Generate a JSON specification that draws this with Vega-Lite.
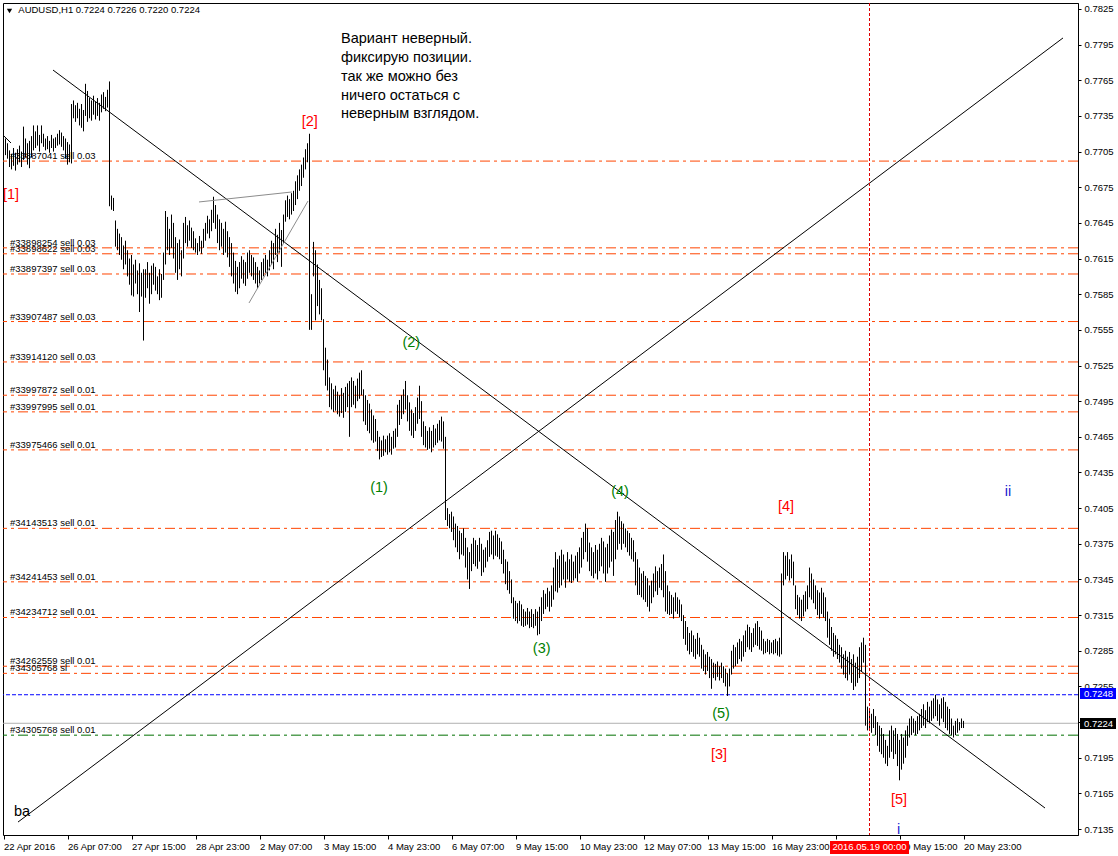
{
"$schema":"https://vega.github.io/schema/vega-lite/v6.json",
"width":1075,"height":832,
"autosize":{"type":"none"},
"padding":{"left":3,"top":3,"right":40,"bottom":21},
"background":"#ffffff",
"config":{"view":{"stroke":"#000000","strokeWidth":1},
"axis":{"labelFont":"Liberation Sans","labelFontSize":9.5,"labelColor":"#000000","tickColor":"#000000","domainColor":"#000000","grid":false,"labelOverlap":false,"labelFlush":false},
"text":{"font":"Liberation Sans"}},
"resolve":{"scale":{"color":"independent"}},
"datasets":{
"bars":[
{"t":0,"h":0.7718,"l":0.7704},{"t":1,"h":0.7716,"l":0.7702},{"t":2,"h":0.7712,"l":0.7699},{"t":3,"h":0.7706,"l":0.7692},{"t":4,"h":0.7703,"l":0.7690},
{"t":5,"h":0.7708,"l":0.7693},{"t":6,"h":0.7704,"l":0.7689},{"t":7,"h":0.7707,"l":0.7694},{"t":8,"h":0.7710,"l":0.7696},{"t":9,"h":0.7705,"l":0.7692},
{"t":10,"h":0.7726,"l":0.7698},{"t":11,"h":0.7716,"l":0.7700},{"t":12,"h":0.7712,"l":0.7694},{"t":13,"h":0.7714,"l":0.7691},{"t":14,"h":0.7718,"l":0.7700},
{"t":15,"h":0.7727,"l":0.7706},{"t":16,"h":0.7722,"l":0.7708},{"t":17,"h":0.7727,"l":0.7710},{"t":18,"h":0.7719,"l":0.7705},{"t":19,"h":0.7727,"l":0.7712},
{"t":20,"h":0.7720,"l":0.7709},{"t":21,"h":0.7716,"l":0.7706},{"t":22,"h":0.7718,"l":0.7707},{"t":23,"h":0.7714,"l":0.7704},{"t":24,"h":0.7719,"l":0.7708},
{"t":25,"h":0.7716,"l":0.7705},{"t":26,"h":0.7717,"l":0.7708},{"t":27,"h":0.7720,"l":0.7710},{"t":28,"h":0.7723,"l":0.7711},{"t":29,"h":0.7721,"l":0.7709},
{"t":30,"h":0.7718,"l":0.7706},{"t":31,"h":0.7716,"l":0.7699},{"t":32,"h":0.7713,"l":0.7694},{"t":33,"h":0.7711,"l":0.7696},{"t":34,"h":0.7745,"l":0.7695},
{"t":35,"h":0.7748,"l":0.7733},{"t":36,"h":0.7744,"l":0.7730},{"t":37,"h":0.7746,"l":0.7733},{"t":38,"h":0.7741,"l":0.7727},{"t":39,"h":0.7745,"l":0.7725},
{"t":40,"h":0.7740,"l":0.7722},{"t":41,"h":0.7762,"l":0.7735},{"t":42,"h":0.7756,"l":0.7730},{"t":43,"h":0.7750,"l":0.7733},{"t":44,"h":0.7748,"l":0.7731},
{"t":45,"h":0.7752,"l":0.7736},{"t":46,"h":0.7747,"l":0.7732},{"t":47,"h":0.7750,"l":0.7735},{"t":48,"h":0.7746,"l":0.7731},{"t":49,"h":0.7753,"l":0.7738},
{"t":50,"h":0.7755,"l":0.7741},{"t":51,"h":0.7751,"l":0.7739},{"t":52,"h":0.7757,"l":0.7742},{"t":53,"h":0.7764,"l":0.7659},{"t":54,"h":0.7668,"l":0.7656},
{"t":55,"h":0.7666,"l":0.7655},{"t":56,"h":0.7647,"l":0.7625},{"t":57,"h":0.7640,"l":0.7622},{"t":58,"h":0.7636,"l":0.7618},{"t":59,"h":0.7633,"l":0.7614},
{"t":60,"h":0.7626,"l":0.7606},{"t":61,"h":0.7630,"l":0.7610},{"t":62,"h":0.7622,"l":0.7600},{"t":63,"h":0.7615,"l":0.7593},{"t":64,"h":0.7618,"l":0.7584},
{"t":65,"h":0.7610,"l":0.7583},{"t":66,"h":0.7614,"l":0.7594},{"t":67,"h":0.7605,"l":0.7585},{"t":68,"h":0.7611,"l":0.7570},{"t":69,"h":0.7603,"l":0.7583},
{"t":70,"h":0.7606,"l":0.7546},{"t":71,"h":0.7606,"l":0.7582},{"t":72,"h":0.7612,"l":0.7590},{"t":73,"h":0.7603,"l":0.7577},{"t":74,"h":0.7609,"l":0.7585},
{"t":75,"h":0.7611,"l":0.7593},{"t":76,"h":0.7608,"l":0.7588},{"t":77,"h":0.7600,"l":0.7585},{"t":78,"h":0.7606,"l":0.7580},{"t":79,"h":0.7602,"l":0.7582},
{"t":80,"h":0.7620,"l":0.7597},{"t":81,"h":0.7655,"l":0.7610},{"t":82,"h":0.7650,"l":0.7622},{"t":83,"h":0.7640,"l":0.7618},{"t":84,"h":0.7652,"l":0.7624},
{"t":85,"h":0.7645,"l":0.7615},{"t":86,"h":0.7633,"l":0.7603},{"t":87,"h":0.7628,"l":0.7597},{"t":88,"h":0.7631,"l":0.7606},{"t":89,"h":0.7622,"l":0.7600},
{"t":90,"h":0.7645,"l":0.7615},{"t":91,"h":0.7650,"l":0.7628},{"t":92,"h":0.7643,"l":0.7625},{"t":93,"h":0.7647,"l":0.7630},{"t":94,"h":0.7641,"l":0.7624},
{"t":95,"h":0.7638,"l":0.7622},{"t":96,"h":0.7632,"l":0.7620},{"t":97,"h":0.7628,"l":0.7618},{"t":98,"h":0.7634,"l":0.7621},{"t":99,"h":0.7630,"l":0.7619},
{"t":100,"h":0.7640,"l":0.7624},{"t":101,"h":0.7645,"l":0.7630},{"t":102,"h":0.7651,"l":0.7636},{"t":103,"h":0.7648,"l":0.7632},{"t":104,"h":0.7656,"l":0.7638},
{"t":105,"h":0.7667,"l":0.7645},{"t":106,"h":0.7660,"l":0.7640},{"t":107,"h":0.7652,"l":0.7628},{"t":108,"h":0.7648,"l":0.7622},{"t":109,"h":0.7645,"l":0.7625},
{"t":110,"h":0.7640,"l":0.7618},{"t":111,"h":0.7646,"l":0.7620},{"t":112,"h":0.7638,"l":0.7616},{"t":113,"h":0.7633,"l":0.7608},{"t":114,"h":0.7628,"l":0.7600},
{"t":115,"h":0.7620,"l":0.7594},{"t":116,"h":0.7613,"l":0.7587},{"t":117,"h":0.7608,"l":0.7585},{"t":118,"h":0.7612,"l":0.7590},{"t":119,"h":0.7617,"l":0.7598},
{"t":120,"h":0.7614,"l":0.7594},{"t":121,"h":0.7612,"l":0.7592},{"t":122,"h":0.7620,"l":0.7598},{"t":123,"h":0.7622,"l":0.7603},{"t":124,"h":0.7618,"l":0.7600},
{"t":125,"h":0.7616,"l":0.7597},{"t":126,"h":0.7612,"l":0.7594},{"t":127,"h":0.7608,"l":0.7590},{"t":128,"h":0.7605,"l":0.7594},{"t":129,"h":0.7612,"l":0.7597},
{"t":130,"h":0.7615,"l":0.7600},{"t":131,"h":0.7618,"l":0.7603},{"t":132,"h":0.7614,"l":0.7600},{"t":133,"h":0.7622,"l":0.7605},{"t":134,"h":0.7630,"l":0.7610},
{"t":135,"h":0.7628,"l":0.7606},{"t":136,"h":0.7640,"l":0.7618},{"t":137,"h":0.7635,"l":0.7612},{"t":138,"h":0.7645,"l":0.7620},{"t":139,"h":0.7639,"l":0.7608},
{"t":140,"h":0.7652,"l":0.7628},{"t":141,"h":0.7664,"l":0.7646},{"t":142,"h":0.7668,"l":0.7650},{"t":143,"h":0.7665,"l":0.7648},{"t":144,"h":0.7670,"l":0.7652},
{"t":145,"h":0.7672,"l":0.7655},{"t":146,"h":0.7680,"l":0.7660},{"t":147,"h":0.7685,"l":0.7665},{"t":148,"h":0.7690,"l":0.7672},{"t":149,"h":0.7694,"l":0.7676},
{"t":150,"h":0.7700,"l":0.7683},{"t":151,"h":0.7707,"l":0.7690},{"t":152,"h":0.7712,"l":0.7696},{"t":153,"h":0.7720,"l":0.7555},{"t":154,"h":0.7585,"l":0.7555},
{"t":155,"h":0.7629,"l":0.7600},{"t":156,"h":0.7622,"l":0.7563},{"t":157,"h":0.7610,"l":0.7575},{"t":158,"h":0.7597,"l":0.7568},{"t":159,"h":0.7590,"l":0.7563},
{"t":160,"h":0.7564,"l":0.7521},{"t":161,"h":0.7540,"l":0.7508},{"t":162,"h":0.7530,"l":0.7504},{"t":163,"h":0.7515,"l":0.7490},{"t":164,"h":0.7510,"l":0.7488},
{"t":165,"h":0.7505,"l":0.7486},{"t":166,"h":0.7508,"l":0.7487},{"t":167,"h":0.7503,"l":0.7484},{"t":168,"h":0.7500,"l":0.7482},{"t":169,"h":0.7506,"l":0.7485},
{"t":170,"h":0.7502,"l":0.7481},{"t":171,"h":0.7507,"l":0.7486},{"t":172,"h":0.7510,"l":0.7490},{"t":173,"h":0.7512,"l":0.7465},{"t":174,"h":0.7515,"l":0.7490},
{"t":175,"h":0.7512,"l":0.7492},{"t":176,"h":0.7508,"l":0.7489},{"t":177,"h":0.7514,"l":0.7495},{"t":178,"h":0.7519,"l":0.7497},{"t":179,"h":0.7521,"l":0.7500},
{"t":180,"h":0.7505,"l":0.7478},{"t":181,"h":0.7500,"l":0.7475},{"t":182,"h":0.7496,"l":0.7470},{"t":183,"h":0.7493,"l":0.7468},{"t":184,"h":0.7488,"l":0.7462},
{"t":185,"h":0.7483,"l":0.7460},{"t":186,"h":0.7480,"l":0.7461},{"t":187,"h":0.7470,"l":0.7453},{"t":188,"h":0.7465,"l":0.7446},{"t":189,"h":0.7462,"l":0.7448},
{"t":190,"h":0.7466,"l":0.7449},{"t":191,"h":0.7463,"l":0.7452},{"t":192,"h":0.7466,"l":0.7450},{"t":193,"h":0.7468,"l":0.7452},{"t":194,"h":0.7465,"l":0.7450},
{"t":195,"h":0.7470,"l":0.7455},{"t":196,"h":0.7472,"l":0.7456},{"t":197,"h":0.7492,"l":0.7465},{"t":198,"h":0.7496,"l":0.7475},{"t":199,"h":0.7500,"l":0.7480},
{"t":200,"h":0.7505,"l":0.7484},{"t":201,"h":0.7512,"l":0.7488},{"t":202,"h":0.7500,"l":0.7478},{"t":203,"h":0.7494,"l":0.7470},{"t":204,"h":0.7488,"l":0.7466},
{"t":205,"h":0.7485,"l":0.7464},{"t":206,"h":0.7490,"l":0.7470},{"t":207,"h":0.7498,"l":0.7476},{"t":208,"h":0.7508,"l":0.7480},{"t":209,"h":0.7495,"l":0.7465},
{"t":210,"h":0.7478,"l":0.7458},{"t":211,"h":0.7474,"l":0.7456},{"t":212,"h":0.7470,"l":0.7454},{"t":213,"h":0.7473,"l":0.7455},{"t":214,"h":0.7470,"l":0.7452},
{"t":215,"h":0.7475,"l":0.7456},{"t":216,"h":0.7472,"l":0.7458},{"t":217,"h":0.7476,"l":0.7460},{"t":218,"h":0.7479,"l":0.7462},{"t":219,"h":0.7482,"l":0.7461},
{"t":220,"h":0.7478,"l":0.7455},{"t":221,"h":0.7465,"l":0.7395},{"t":222,"h":0.7405,"l":0.7390},{"t":223,"h":0.7400,"l":0.7388},{"t":224,"h":0.7402,"l":0.7385},
{"t":225,"h":0.7398,"l":0.7378},{"t":226,"h":0.7392,"l":0.7372},{"t":227,"h":0.7390,"l":0.7368},{"t":228,"h":0.7386,"l":0.7362},{"t":229,"h":0.7384,"l":0.7366},
{"t":230,"h":0.7388,"l":0.7365},{"t":231,"h":0.7380,"l":0.7355},{"t":232,"h":0.7372,"l":0.7345},{"t":233,"h":0.7368,"l":0.7337},{"t":234,"h":0.7375,"l":0.7352},
{"t":235,"h":0.7380,"l":0.7358},{"t":236,"h":0.7378,"l":0.7356},{"t":237,"h":0.7374,"l":0.7354},{"t":238,"h":0.7380,"l":0.7360},{"t":239,"h":0.7375,"l":0.7348},
{"t":240,"h":0.7370,"l":0.7351},{"t":241,"h":0.7372,"l":0.7355},{"t":242,"h":0.7378,"l":0.7360},{"t":243,"h":0.7385,"l":0.7364},{"t":244,"h":0.7386,"l":0.7366},
{"t":245,"h":0.7382,"l":0.7362},{"t":246,"h":0.7386,"l":0.7365},{"t":247,"h":0.7383,"l":0.7364},{"t":248,"h":0.7380,"l":0.7362},{"t":249,"h":0.7377,"l":0.7358},
{"t":250,"h":0.7370,"l":0.7350},{"t":251,"h":0.7362,"l":0.7341},{"t":252,"h":0.7360,"l":0.7336},{"t":253,"h":0.7352,"l":0.7333},{"t":254,"h":0.7345,"l":0.7325},
{"t":255,"h":0.7330,"l":0.7312},{"t":256,"h":0.7327,"l":0.7310},{"t":257,"h":0.7325,"l":0.7308},{"t":258,"h":0.7327,"l":0.7310},{"t":259,"h":0.7324,"l":0.7306},
{"t":260,"h":0.7320,"l":0.7305},{"t":261,"h":0.7318,"l":0.7306},{"t":262,"h":0.7321,"l":0.7307},{"t":263,"h":0.7318,"l":0.7304},{"t":264,"h":0.7320,"l":0.7305},
{"t":265,"h":0.7316,"l":0.7304},{"t":266,"h":0.7320,"l":0.7306},{"t":267,"h":0.7318,"l":0.7298},{"t":268,"h":0.7322,"l":0.7299},{"t":269,"h":0.7330,"l":0.7310},
{"t":270,"h":0.7336,"l":0.7316},{"t":271,"h":0.7333,"l":0.7320},{"t":272,"h":0.7338,"l":0.7322},{"t":273,"h":0.7335,"l":0.7318},{"t":274,"h":0.7340,"l":0.7322},
{"t":275,"h":0.7355,"l":0.7328},{"t":276,"h":0.7368,"l":0.7335},{"t":277,"h":0.7362,"l":0.7334},{"t":278,"h":0.7365,"l":0.7338},{"t":279,"h":0.7370,"l":0.7340},
{"t":280,"h":0.7366,"l":0.7345},{"t":281,"h":0.7360,"l":0.7338},{"t":282,"h":0.7368,"l":0.7345},{"t":283,"h":0.7362,"l":0.7343},{"t":284,"h":0.7366,"l":0.7342},
{"t":285,"h":0.7360,"l":0.7344},{"t":286,"h":0.7365,"l":0.7346},{"t":287,"h":0.7368,"l":0.7343},{"t":288,"h":0.7372,"l":0.7350},{"t":289,"h":0.7380,"l":0.7355},
{"t":290,"h":0.7385,"l":0.7362},{"t":291,"h":0.7392,"l":0.7368},{"t":292,"h":0.7388,"l":0.7360},{"t":293,"h":0.7376,"l":0.7352},{"t":294,"h":0.7372,"l":0.7348},
{"t":295,"h":0.7368,"l":0.7346},{"t":296,"h":0.7374,"l":0.7350},{"t":297,"h":0.7370,"l":0.7345},{"t":298,"h":0.7375,"l":0.7352},{"t":299,"h":0.7380,"l":0.7356},
{"t":300,"h":0.7377,"l":0.7350},{"t":301,"h":0.7372,"l":0.7343},{"t":302,"h":0.7375,"l":0.7350},{"t":303,"h":0.7382,"l":0.7355},{"t":304,"h":0.7387,"l":0.7360},
{"t":305,"h":0.7385,"l":0.7348},{"t":306,"h":0.7395,"l":0.7362},{"t":307,"h":0.7402,"l":0.7370},{"t":308,"h":0.7398,"l":0.7375},{"t":309,"h":0.7394,"l":0.7370},
{"t":310,"h":0.7392,"l":0.7375},{"t":311,"h":0.7388,"l":0.7372},{"t":312,"h":0.7386,"l":0.7368},{"t":313,"h":0.7384,"l":0.7365},{"t":314,"h":0.7380,"l":0.7362},
{"t":315,"h":0.7378,"l":0.7360},{"t":316,"h":0.7368,"l":0.7340},{"t":317,"h":0.7362,"l":0.7332},{"t":318,"h":0.7355,"l":0.7332},{"t":319,"h":0.7350,"l":0.7330},
{"t":320,"h":0.7352,"l":0.7328},{"t":321,"h":0.7348,"l":0.7326},{"t":322,"h":0.7346,"l":0.7322},{"t":323,"h":0.7340,"l":0.7318},{"t":324,"h":0.7344,"l":0.7325},
{"t":325,"h":0.7350,"l":0.7330},{"t":326,"h":0.7356,"l":0.7335},{"t":327,"h":0.7352,"l":0.7332},{"t":328,"h":0.7355,"l":0.7338},{"t":329,"h":0.7358,"l":0.7336},
{"t":330,"h":0.7366,"l":0.7330},{"t":331,"h":0.7352,"l":0.7318},{"t":332,"h":0.7340,"l":0.7316},{"t":333,"h":0.7335,"l":0.7315},{"t":334,"h":0.7332,"l":0.7316},
{"t":335,"h":0.7330,"l":0.7312},{"t":336,"h":0.7334,"l":0.7318},{"t":337,"h":0.7330,"l":0.7316},{"t":338,"h":0.7328,"l":0.7313},{"t":339,"h":0.7324,"l":0.7310},
{"t":340,"h":0.7315,"l":0.7295},{"t":341,"h":0.7310,"l":0.7290},{"t":342,"h":0.7305,"l":0.7285},{"t":343,"h":0.7300,"l":0.7282},{"t":344,"h":0.7302,"l":0.7284},
{"t":345,"h":0.7298,"l":0.7280},{"t":346,"h":0.7295,"l":0.7278},{"t":347,"h":0.7300,"l":0.7282},{"t":348,"h":0.7296,"l":0.7280},{"t":349,"h":0.7290,"l":0.7270},
{"t":350,"h":0.7286,"l":0.7268},{"t":351,"h":0.7282,"l":0.7265},{"t":352,"h":0.7284,"l":0.7268},{"t":353,"h":0.7280,"l":0.7262},{"t":354,"h":0.7278,"l":0.7253},
{"t":355,"h":0.7275,"l":0.7262},{"t":356,"h":0.7274,"l":0.7260},{"t":357,"h":0.7276,"l":0.7263},{"t":358,"h":0.7272,"l":0.7260},{"t":359,"h":0.7275,"l":0.7262},
{"t":360,"h":0.7272,"l":0.7258},{"t":361,"h":0.7270,"l":0.7255},{"t":362,"h":0.7266,"l":0.7247},{"t":363,"h":0.7270,"l":0.7255},{"t":364,"h":0.7285,"l":0.7265},
{"t":365,"h":0.7290,"l":0.7270},{"t":366,"h":0.7288,"l":0.7272},{"t":367,"h":0.7292,"l":0.7274},{"t":368,"h":0.7295,"l":0.7278},{"t":369,"h":0.7293,"l":0.7276},
{"t":370,"h":0.7298,"l":0.7280},{"t":371,"h":0.7302,"l":0.7284},{"t":372,"h":0.7307,"l":0.7288},{"t":373,"h":0.7305,"l":0.7286},{"t":374,"h":0.7300,"l":0.7284},
{"t":375,"h":0.7304,"l":0.7288},{"t":376,"h":0.7308,"l":0.7290},{"t":377,"h":0.7310,"l":0.7289},{"t":378,"h":0.7305,"l":0.7286},{"t":379,"h":0.7302,"l":0.7285},
{"t":380,"h":0.7295,"l":0.7282},{"t":381,"h":0.7293,"l":0.7283},{"t":382,"h":0.7295,"l":0.7284},{"t":383,"h":0.7294,"l":0.7282},{"t":384,"h":0.7292,"l":0.7283},
{"t":385,"h":0.7294,"l":0.7282},{"t":386,"h":0.7295,"l":0.7283},{"t":387,"h":0.7293,"l":0.7281},{"t":388,"h":0.7296,"l":0.7280},{"t":389,"h":0.7350,"l":0.7282},
{"t":390,"h":0.7368,"l":0.7340},{"t":391,"h":0.7365,"l":0.7345},{"t":392,"h":0.7368,"l":0.7348},{"t":393,"h":0.7362,"l":0.7344},{"t":394,"h":0.7366,"l":0.7346},
{"t":395,"h":0.7360,"l":0.7340},{"t":396,"h":0.7340,"l":0.7320},{"t":397,"h":0.7332,"l":0.7315},{"t":398,"h":0.7330,"l":0.7312},{"t":399,"h":0.7328,"l":0.7310},
{"t":400,"h":0.7332,"l":0.7314},{"t":401,"h":0.7335,"l":0.7318},{"t":402,"h":0.7340,"l":0.7320},{"t":403,"h":0.7355,"l":0.7330},{"t":404,"h":0.7350,"l":0.7328},
{"t":405,"h":0.7345,"l":0.7325},{"t":406,"h":0.7340,"l":0.7320},{"t":407,"h":0.7336,"l":0.7315},{"t":408,"h":0.7334,"l":0.7312},{"t":409,"h":0.7338,"l":0.7316},
{"t":410,"h":0.7334,"l":0.7313},{"t":411,"h":0.7330,"l":0.7310},{"t":412,"h":0.7318,"l":0.7296},{"t":413,"h":0.7312,"l":0.7290},{"t":414,"h":0.7305,"l":0.7285},
{"t":415,"h":0.7300,"l":0.7280},{"t":416,"h":0.7298,"l":0.7282},{"t":417,"h":0.7295,"l":0.7278},{"t":418,"h":0.7290,"l":0.7275},{"t":419,"h":0.7288,"l":0.7270},
{"t":420,"h":0.7282,"l":0.7265},{"t":421,"h":0.7285,"l":0.7262},{"t":422,"h":0.7280,"l":0.7260},{"t":423,"h":0.7284,"l":0.7265},{"t":424,"h":0.7278,"l":0.7258},
{"t":425,"h":0.7282,"l":0.7252},{"t":426,"h":0.7275,"l":0.7255},{"t":427,"h":0.7280,"l":0.7258},{"t":428,"h":0.7288,"l":0.7262},{"t":429,"h":0.7292,"l":0.7268},
{"t":430,"h":0.7296,"l":0.7275},{"t":431,"h":0.7290,"l":0.7222},{"t":432,"h":0.7238,"l":0.7218},{"t":433,"h":0.7235,"l":0.7220},{"t":434,"h":0.7232,"l":0.7216},
{"t":435,"h":0.7236,"l":0.7220},{"t":436,"h":0.7230,"l":0.7214},{"t":437,"h":0.7225,"l":0.7205},{"t":438,"h":0.7222,"l":0.7200},{"t":439,"h":0.7220,"l":0.7198},
{"t":440,"h":0.7215,"l":0.7195},{"t":441,"h":0.7210,"l":0.7190},{"t":442,"h":0.7205,"l":0.7188},{"t":443,"h":0.7218,"l":0.7195},{"t":444,"h":0.7222,"l":0.7200},
{"t":445,"h":0.7218,"l":0.7194},{"t":446,"h":0.7220,"l":0.7198},{"t":447,"h":0.7215,"l":0.7188},{"t":448,"h":0.7210,"l":0.7176},{"t":449,"h":0.7215,"l":0.7185},
{"t":450,"h":0.7212,"l":0.7190},{"t":451,"h":0.7218,"l":0.7195},{"t":452,"h":0.7222,"l":0.7205},{"t":453,"h":0.7228,"l":0.7212},{"t":454,"h":0.7230,"l":0.7214},
{"t":455,"h":0.7228,"l":0.7216},{"t":456,"h":0.7226,"l":0.7214},{"t":457,"h":0.7230,"l":0.7215},{"t":458,"h":0.7232,"l":0.7218},{"t":459,"h":0.7236,"l":0.7220},
{"t":460,"h":0.7240,"l":0.7222},{"t":461,"h":0.7235,"l":0.7220},{"t":462,"h":0.7242,"l":0.7225},{"t":463,"h":0.7238,"l":0.7224},{"t":464,"h":0.7243,"l":0.7226},
{"t":465,"h":0.7245,"l":0.7228},{"t":466,"h":0.7248,"l":0.7230},{"t":467,"h":0.7244,"l":0.7226},{"t":468,"h":0.7240,"l":0.7222},{"t":469,"h":0.7245,"l":0.7228},
{"t":470,"h":0.7246,"l":0.7225},{"t":471,"h":0.7242,"l":0.7220},{"t":472,"h":0.7238,"l":0.7218},{"t":473,"h":0.7236,"l":0.7215},{"t":474,"h":0.7228,"l":0.7214},
{"t":475,"h":0.7222,"l":0.7212},{"t":476,"h":0.7226,"l":0.7214},{"t":477,"h":0.7228,"l":0.7216},{"t":478,"h":0.7225,"l":0.7218},{"t":479,"h":0.7228,"l":0.7220},
{"t":480,"h":0.7226,"l":0.7220}
],
"hlines":[
{"p":0.7697,"k":"sell","lab":"#33887041 sell 0.03"},
{"p":0.7624,"k":"sell","lab":"#33898254 sell 0.03"},
{"p":0.7619,"k":"sell","lab":"#33898622 sell 0.03"},
{"p":0.7602,"k":"sell","lab":"#33897397 sell 0.03"},
{"p":0.7562,"k":"sell","lab":"#33907487 sell 0.03"},
{"p":0.7528,"k":"sell","lab":"#33914120 sell 0.03"},
{"p":0.7500,"k":"sell","lab":"#33997872 sell 0.01"},
{"p":0.7486,"k":"sell","lab":"#33997995 sell 0.01"},
{"p":0.7454,"k":"sell","lab":"#33975466 sell 0.01"},
{"p":0.7388,"k":"sell","lab":"#34143513 sell 0.01"},
{"p":0.7343,"k":"sell","lab":"#34241453 sell 0.01"},
{"p":0.7313,"k":"sell","lab":"#34234712 sell 0.01"},
{"p":0.7272,"k":"sell","lab":"#34262559 sell 0.01"},
{"p":0.7266,"k":"sl","lab":"#34305768 sl"},
{"p":0.7248,"k":"alert","lab":""},
{"p":0.7224,"k":"bid","lab":""},
{"p":0.7214,"k":"order","lab":"#34305768 sell 0.01"}
],
"trend":[
{"id":"a","k":"black","t":24.75,"p":0.77736},{"id":"a","k":"black","t":520.75,"p":0.71527},
{"id":"b","k":"black","t":7.25,"p":0.71409},{"id":"b","k":"black","t":529.75,"p":0.78006},
{"id":"c","k":"gray","t":97.75,"p":0.76626},{"id":"c","k":"gray","t":144.25,"p":0.76710},
{"id":"d","k":"gray","t":122.75,"p":0.75776},{"id":"d","k":"gray","t":152.25,"p":0.76634},
{"id":"e","k":"black","t":-0.25,"p":0.77189},{"id":"e","k":"black","t":3.75,"p":0.77122}
],
"ann":[
{"t":3.75,"p":0.76685,"txt":"[1]","k":"red"},
{"t":153.1,"p":0.77299,"txt":"[2]","k":"red"},
{"t":357.75,"p":0.71973,"txt":"[3]","k":"red"},
{"t":391.25,"p":0.74060,"txt":"[4]","k":"red"},
{"t":447.75,"p":0.71594,"txt":"[5]","k":"red"},
{"t":187.75,"p":0.74217,"txt":"(1)","k":"green"},
{"t":203.9,"p":0.75437,"txt":"(2)","k":"green"},
{"t":269.1,"p":0.72865,"txt":"(3)","k":"green"},
{"t":308.25,"p":0.74186,"txt":"(4)","k":"green"},
{"t":358.75,"p":0.72318,"txt":"(5)","k":"green"},
{"t":502.25,"p":0.74186,"txt":"ii","k":"blue"},
{"t":447.6,"p":0.71338,"txt":"i","k":"blue"},
{"t":9.25,"p":0.71493,"txt":"ba","k":"black"}
],
"note":[
{"t":168.75,"p":0.77961,"txt":"Вариант неверный."},
{"t":168.75,"p":0.77804,"txt":"фиксирую позиции."},
{"t":168.75,"p":0.77645,"txt":"так же можно без"},
{"t":168.75,"p":0.77488,"txt":"ничего остаться с"},
{"t":168.75,"p":0.77330,"txt":"неверным взглядом."}
],
"boxes":[
{"t":538.25,"t2":556.25,"p":0.72444,"p2":0.72537,"k":"alert"},
{"t":538.25,"t2":556.25,"p":0.72192,"p2":0.72284,"k":"bid"},
{"t":413.25,"t2":452.75,"p":0.71140,"p2":0.71249,"k":"time"}
],
"boxtext":[
{"t":540.25,"p":0.72490,"txt":"0.7248"},
{"t":540.25,"p":0.72238,"txt":"0.7224"}
]
},
"layer":[
{"data":{"name":"hlines"},"transform":[{"filter":"datum.k=='sell'||datum.k=='sl'"}],
"mark":{"type":"rule","color":"#ff4500","strokeWidth":1,"strokeDash":[10,4,3,4]},
"encoding":{"y":{"field":"p","type":"quantitative","title":null,"scale":{"domain":[0.713,0.783],"nice":false,"zero":false},
"axis":{"orient":"right","values":[0.7135,0.7165,0.7195,0.7225,0.7255,0.7285,0.7315,0.7345,0.7375,0.7405,0.7435,0.7465,0.7495,0.7525,0.7555,0.7585,0.7615,0.7645,0.7675,0.7705,0.7735,0.7765,0.7795,0.7825],"tickCount":40,"format":".4f","tickSize":3,"labelPadding":3,"labelOverlap":false,"labelFlush":false,"labelBaseline":"middle","domain":true,"grid":false}}}},
{"data":{"name":"hlines"},"transform":[{"filter":"datum.k=='alert'"}],
"mark":{"type":"rule","color":"#0000ff","strokeWidth":1,"strokeDash":[4,2]},
"encoding":{"y":{"field":"p","type":"quantitative","title":null}}},
{"data":{"name":"hlines"},"transform":[{"filter":"datum.k=='bid'"}],
"mark":{"type":"rule","color":"#b0b0b0","strokeWidth":1},
"encoding":{"y":{"field":"p","type":"quantitative","title":null}}},
{"data":{"name":"hlines"},"transform":[{"filter":"datum.k=='order'"}],
"mark":{"type":"rule","color":"#007000","strokeWidth":1,"strokeDash":[10,4,3,4]},
"encoding":{"y":{"field":"p","type":"quantitative","title":null}}},
{"data":{"name":"bars"},
"mark":{"type":"rule","color":"#000000","strokeWidth":1},
"encoding":{"x":{"field":"t","type":"quantitative","title":null,"scale":{"domain":[-0.25,537.25],"nice":false,"zero":false},
"axis":{"values":[0,32,64,96,128,160,192,224,256,288,320,352,384,416,448,480],"tickCount":40,
"labelExpr":"['22 Apr 2016','26 Apr 07:00','27 Apr 15:00','28 Apr 23:00','2 May 07:00','3 May 15:00','4 May 23:00','6 May 07:00','9 May 15:00','10 May 23:00','12 May 07:00','13 May 15:00','16 May 23:00','18 May 07:00','19 May 15:00','20 May 23:00'][round(datum.value/32)]",
"tickSize":4,"labelAlign":"left","labelBaseline":"top","labelPadding":2,"domain":false,"labelOverlap":false,"labelFlush":false,"labelBound":false,"grid":false}},
"y":{"field":"h","type":"quantitative","title":null},"y2":{"field":"l"}}},
{"data":{"name":"trend"},"transform":[{"filter":"datum.k=='black'"}],
"mark":{"type":"line","strokeWidth":1,"color":"#000000"},
"encoding":{"x":{"field":"t","type":"quantitative","title":null},"y":{"field":"p","type":"quantitative","title":null},"detail":{"field":"id"}}},
{"data":{"name":"trend"},"transform":[{"filter":"datum.k=='gray'"}],
"mark":{"type":"line","strokeWidth":1,"color":"#8c8c8c"},
"encoding":{"x":{"field":"t","type":"quantitative","title":null},"y":{"field":"p","type":"quantitative","title":null},"detail":{"field":"id"}}},
{"data":{"name":"hlines"},"transform":[{"filter":"datum.lab!=''"}],
"mark":{"type":"text","font":"Liberation Sans","fontSize":9.5,"color":"#000000","align":"left","baseline":"alphabetic","dy":-2},
"encoding":{"x":{"datum":3.25,"type":"quantitative"},"y":{"field":"p","type":"quantitative","title":null},"text":{"field":"lab"}}},
{"data":{"values":[{"t":433}]},
"mark":{"type":"rule","color":"#dd0000","strokeWidth":1,"strokeDash":[3,2]},
"encoding":{"x":{"field":"t","type":"quantitative","title":null}}},
{"data":{"name":"ann"},
"mark":{"type":"text","font":"Liberation Sans","fontSize":14.5,"align":"center","baseline":"middle"},
"encoding":{"x":{"field":"t","type":"quantitative","title":null},"y":{"field":"p","type":"quantitative","title":null},"text":{"field":"txt"},
"color":{"field":"k","type":"nominal","scale":{"domain":["red","green","blue","black"],"range":["#ff0000","#008000","#2020d0","#000000"]},"legend":null}}},
{"data":{"name":"note"},
"mark":{"type":"text","font":"Liberation Sans","fontSize":14.5,"align":"left","baseline":"alphabetic","color":"#000000"},
"encoding":{"x":{"field":"t","type":"quantitative","title":null},"y":{"field":"p","type":"quantitative","title":null},"text":{"field":"txt"}}},
{"data":{"values":[{"t":7.4,"p":0.78237,"txt":"AUDUSD,H1  0.7224 0.7226 0.7220 0.7224"}]},
"mark":{"type":"text","font":"Liberation Sans","fontSize":9.5,"align":"left","baseline":"middle","color":"#000000"},
"encoding":{"x":{"field":"t","type":"quantitative","title":null},"y":{"field":"p","type":"quantitative","title":null},"text":{"field":"txt"}}},
{"data":{"values":[{"t":3.0,"p":0.78232}]},
"mark":{"type":"point","shape":"triangle-down","filled":true,"color":"#000000","size":28,"opacity":1},
"encoding":{"x":{"field":"t","type":"quantitative","title":null},"y":{"field":"p","type":"quantitative","title":null}}},
{"data":{"name":"boxes"},
"mark":{"type":"rect"},
"encoding":{"x":{"field":"t","type":"quantitative","title":null},"x2":{"field":"t2"},"y":{"field":"p","type":"quantitative","title":null},"y2":{"field":"p2"},
"color":{"field":"k","type":"nominal","scale":{"domain":["alert","bid","time"],"range":["#0000ff","#000000","#ff0000"]},"legend":null}}},
{"data":{"name":"boxtext"},
"mark":{"type":"text","font":"Liberation Sans","fontSize":9.5,"align":"left","baseline":"middle","color":"#ffffff"},
"encoding":{"x":{"field":"t","type":"quantitative","title":null},"y":{"field":"p","type":"quantitative","title":null},"text":{"field":"txt"}}},
{"data":{"values":[{"t":433,"p":0.71195,"txt":"2016.05.19 00:00"}]},
"mark":{"type":"text","font":"Liberation Sans","fontSize":9.5,"align":"center","baseline":"middle","color":"#ffffff"},
"encoding":{"x":{"field":"t","type":"quantitative","title":null},"y":{"field":"p","type":"quantitative","title":null},"text":{"field":"txt"}}}
]
}
